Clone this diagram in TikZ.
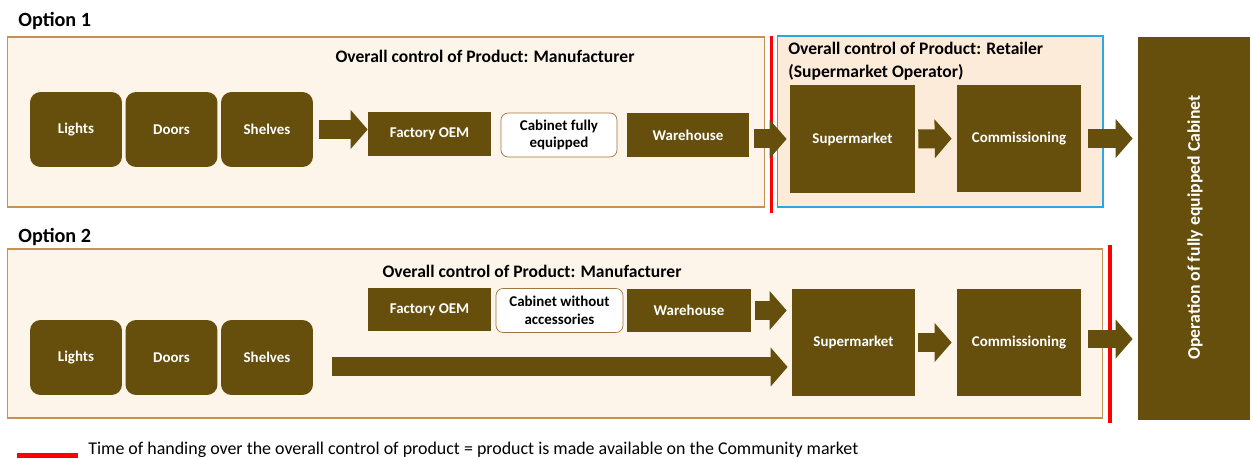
\documentclass[tikz,border=0pt]{standalone}
\usepackage{fontspec}
\setmainfont{Carlito}
\usetikzlibrary{arrows.meta}
\definecolor{boxbrown}{HTML}{664F0D}
\definecolor{framefill}{HTML}{FDF5EA}
\definecolor{framedraw}{HTML}{C8914F}
\definecolor{retailfill}{HTML}{FDEBD9}
\definecolor{retaildraw}{HTML}{2AA8E4}
\definecolor{handred}{HTML}{FF0000}

\begin{document}
\begin{tikzpicture}[x=0.02cm,y=-0.02cm,
    frame/.style={draw=framedraw, fill=framefill, line width=0.6pt, inner sep=0},
    part/.style={fill=boxbrown, rounded corners=6pt, minimum width=1.84cm, minimum height=1.5cm, inner sep=0, text=white, font=\fontsize{8.5}{10}\selectfont\bfseries},
    stage/.style={fill=boxbrown, minimum height=0.88cm, inner sep=0, text=white, font=\fontsize{8.5}{10}\selectfont\bfseries},
    product/.style={draw=framedraw!80!black, fill=white, rounded corners=4pt, minimum height=0.88cm, inner sep=0, align=center, font=\fontsize{8.5}{10}\selectfont\bfseries},
    site/.style={fill=boxbrown, minimum width=2.48cm, minimum height=2.15cm, inner sep=0, text=white, font=\fontsize{8.5}{10}\selectfont\bfseries},
    title/.style={font=\fontsize{10}{13}\selectfont\bfseries},
    option/.style={anchor=west, inner sep=0, font=\fontsize{11.5}{13}\selectfont\bfseries},
    fat/.style={boxbrown, line width=0.38cm, -{Triangle[length=0.34cm, width=0.76cm]}},
    handover/.style={handred, line width=1.8pt}]

\useasboundingbox (0,0) rectangle (1252,459);

\node [option] (opt1) at (18,21) {Option 1};
\node [frame, minimum width=15.16cm, minimum height=3.4cm] (frame1) at (386,122) {};
\node [frame, fill=retailfill, draw=retaildraw, minimum width=6.52cm, minimum height=3.42cm] (retail) at (940,121.5) {};
\node [title] (ctrl1) at (485,56) {Overall control of Product: Manufacturer};
\node [title, anchor=north west, align=left, inner sep=0] (ctrl2) at (788,42) {Overall control of Product: Retailer\\(Supermarket Operator)};

\node [part] (lights1) at (76,129.5) {Lights};
\node [part] (doors1) at (171.5,129.5) {Doors};
\node [part] (shelves1) at (267,129.5) {Shelves};
\node [stage, minimum width=2.46cm] (oem1) at (429.5,134) {Factory OEM};
\node [product, minimum width=2.32cm] (cab1) at (559,135) {Cabinet fully\\equipped};
\node [stage, minimum width=2.44cm] (wh1) at (688,135) {Warehouse};
\node [site, minimum width=2.5cm] (sm1) at (852.5,139) {Supermarket};
\node [site] (com1) at (1019,138.5) {Commissioning};

\node [fill=boxbrown, minimum width=2.24cm, minimum height=7.66cm, inner sep=0] (op) at (1194,228.5) {};
\node [rotate=90, text=white, font=\fontsize{10.1}{12}\selectfont\bfseries] (optext) at (1195,227.5) {Operation of fully equipped Cabinet};

\coordinate (red1top) at (771.5,36);
\coordinate (red1bot) at (771.5,213);
\draw [handover] (red1top) -- (red1bot);

\draw [fat, shorten <=0.12cm] (shelves1.east) -- (shelves1.east -| oem1.west);
\draw [fat, shorten <=0.1cm, shorten >=0.06cm] (wh1.east |- sm1) -- (sm1.west);
\draw [fat, shorten <=0.06cm, shorten >=0.1cm] (sm1.east) -- (com1.west);
\draw [fat, shorten <=0.14cm, shorten >=0.1cm] (com1.east) -- (com1.east -| op.west);

\node [option] (opt2) at (18,237) {Option 2};
\node [frame, minimum width=21.92cm, minimum height=3.38cm] (frame2) at (555,333.5) {};
\node [title] (ctrl3) at (532,271) {Overall control of Product: Manufacturer};

\node [part] (lights2) at (76,357.5) {Lights};
\node [part] (doors2) at (171.5,357.5) {Doors};
\node [part] (shelves2) at (267,357.5) {Shelves};
\node [stage, minimum width=2.46cm] (oem2) at (429.5,309.5) {Factory OEM};
\node [product, minimum width=2.54cm] (cab2) at (559.5,310.5) {Cabinet without\\accessories};
\node [stage, minimum width=2.48cm] (wh2) at (689,310.5) {Warehouse};
\node [site, minimum width=2.46cm] (sm2) at (853.5,342.5) {Supermarket};
\node [site] (com2) at (1019,342.5) {Commissioning};

\coordinate (red2top) at (1110,245);
\coordinate (red2bot) at (1110,423);
\draw [handover] (red2top) -- (red2bot);

\draw [fat, shorten <=0.08cm, shorten >=0.1cm] (wh2.east) -- (wh2.east -| sm2.west);
\draw [fat, shorten <=0.38cm, shorten >=0.08cm] ([yshift=-0.19cm]shelves2.east) -- ([yshift=-0.19cm]shelves2.east -| sm2.west);
\draw [fat, shorten <=0.06cm, shorten >=0.1cm] (sm2.east) -- (com2.west);
\draw [fat, shorten <=0.14cm, shorten >=0.1cm] ([yshift=0.07cm]com2.east) -- ([yshift=0.07cm]com2.east -| op.west);

\coordinate (keyleft) at (17,455.5);
\coordinate (keyright) at (78,455.5);
\draw [handred, line width=2.8pt] (keyleft) -- (keyright);
\node [anchor=west, inner sep=0, font=\fontsize{10.2}{12}\selectfont] (keytext) at (88,450) {Time of handing over the overall control of product = product is made available on the Community market};

\end{tikzpicture}
\end{document}
